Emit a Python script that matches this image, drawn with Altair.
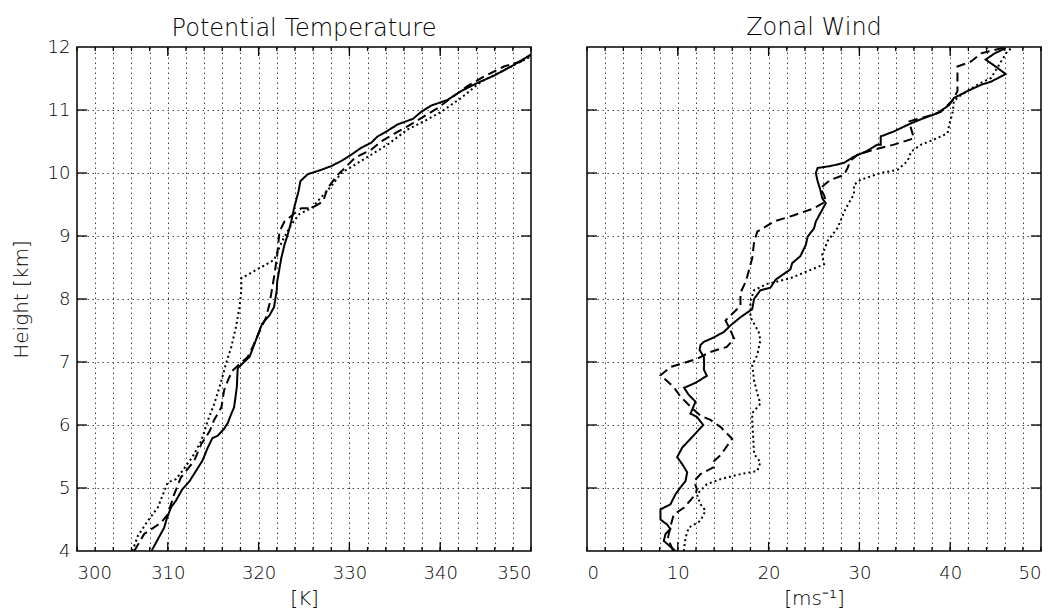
import altair as alt
import pandas as pd

# ---------------- data ----------------
# Potential temperature [K] vs height [km]
pt_solid_h = [4.0, 4.37, 4.52, 4.69, 4.8, 4.98, 5.11, 5.27, 5.43, 5.64, 5.79, 5.83, 5.94, 6.03, 6.18, 6.28,
              6.6, 6.9, 7.0, 7.08, 7.27, 7.5, 7.61, 7.74, 7.87, 8.14, 8.28, 8.65, 8.86, 9.02, 9.23, 9.44,
              9.71, 9.87, 9.98, 10.05, 10.11, 10.19, 10.29, 10.4, 10.48, 10.58, 10.67, 10.77, 10.86, 10.97,
              11.07, 11.16, 11.3, 11.43, 11.55, 11.69, 11.88]
pt_solid_v = [308.2, 309.6, 309.9, 310.35, 310.9, 311.6, 312.4, 313.1, 313.8, 314.4, 314.9, 315.5, 316.2,
              316.6, 317.0, 317.3, 317.6, 317.7, 318.4, 319.0, 319.5, 320.1, 320.4, 321.2, 321.7, 322.0,
              322.05, 322.5, 322.85, 323.2, 323.6, 323.9, 324.4, 324.6, 325.4, 326.9, 328.0, 329.1, 330.2,
              331.3, 332.4, 333.1, 334.2, 335.3, 337.0, 337.9, 339.0, 340.8, 342.3, 344.1, 346.0, 347.8, 350.0]

pt_dash_h = [4.0, 4.27, 4.45, 4.58, 4.9, 5.17, 5.43, 5.7, 5.9, 6.08, 6.28, 6.55, 6.7, 6.86, 6.94, 7.08,
             7.24, 7.55, 7.7, 7.92, 8.39, 8.7, 9.07, 9.23, 9.34, 9.44, 9.44, 9.55, 9.76, 9.97, 10.08, 10.24,
             10.37, 10.5, 10.63, 10.74, 10.87, 11.03, 11.19, 11.38, 11.53, 11.69, 11.77, 11.88]
pt_dash_v = [306.3, 307.4, 309.25, 310.0, 310.7, 311.45, 312.9, 313.7, 314.6, 315.1, 315.9, 316.2, 316.6,
             317.1, 317.7, 318.8, 319.35, 320.3, 320.8, 321.2, 321.75, 322.05, 322.3, 322.85, 323.8, 324.7,
             325.8, 327.1, 327.6, 328.7, 329.5, 330.6, 332.4, 333.5, 335.0, 336.4, 337.9, 339.7, 341.2,
             343.0, 344.8, 347.0, 348.9, 350.0]

pt_dot_h = [4.0, 4.24, 4.48, 4.69, 5.09, 5.14, 5.27, 5.49, 5.75, 6.07, 6.33, 6.7, 6.97, 7.24, 7.55, 7.87,
            8.14, 8.33, 8.62, 8.92, 9.18, 9.35, 9.44, 9.79, 10.0, 10.13, 10.29, 10.45, 10.69, 10.82, 10.97,
            11.19, 11.45, 11.61, 11.77, 11.85]
pt_dot_v = [306.1, 306.7, 307.8, 308.9, 310.0, 310.9, 311.6, 312.7, 313.7, 314.4, 315.1, 315.9, 316.4,
            317.0, 317.5, 317.9, 318.1, 318.1, 321.7, 322.6, 323.6, 324.5, 325.8, 328.0, 329.1, 330.6,
            332.4, 334.2, 336.4, 338.2, 340.1, 342.3, 344.5, 346.7, 348.9, 350.0]

# Zonal wind [m/s] vs height [km]
u_solid_h = [4.0, 4.16, 4.27, 4.35, 4.42, 4.5, 4.66, 4.74, 4.9, 5.01, 5.11, 5.25, 5.38, 5.49, 5.64, 5.75,
             5.89, 6.0, 6.13, 6.18, 6.37, 6.48, 6.59, 6.67, 6.78, 6.88, 6.97, 7.08, 7.19, 7.27, 7.32, 7.39,
             7.48, 7.58, 7.71, 7.84, 8.0, 8.14, 8.18, 8.31, 8.47, 8.57, 8.68, 8.86, 8.99, 9.12, 9.23, 9.52,
             9.6, 9.73, 9.87, 10.0, 10.08, 10.11, 10.16, 10.26, 10.34, 10.45, 10.45, 10.58, 10.66, 10.79,
             10.87, 10.95, 11.08, 11.19, 11.3, 11.4, 11.45, 11.57, 11.67, 11.8, 11.9, 11.98]
u_solid_v = [9.74, 8.46, 8.64, 9.19, 8.82, 8.09, 8.09, 9.19, 9.74, 10.3, 10.85, 11.03, 10.48, 9.93, 10.48,
             11.2, 12.1, 12.8, 12.1, 11.4, 11.95, 11.2, 10.7, 11.95, 13.2, 12.87, 12.9, 12.87, 12.4, 12.5,
             12.87, 13.97, 15.1, 15.8, 16.9, 18.2, 18.4, 19.1, 20.2, 20.8, 22.4, 22.6, 23.5, 24.1, 24.3,
             25.0, 25.2, 26.3, 25.9, 25.7, 25.4, 25.2, 25.4, 26.8, 28.3, 29.4, 30.7, 32.0, 32.35, 32.35,
             33.8, 35.7, 37.1, 38.6, 39.9, 40.4, 41.9, 43.4, 44.5, 46.1, 45.2, 43.9, 44.9, 46.1]

u_dash_h = [4.0, 4.2, 4.45, 4.58, 4.69, 4.9, 4.98, 5.11, 5.22, 5.33, 5.43, 5.52, 5.78, 5.97, 6.08, 6.15,
            6.29, 6.45, 6.6, 6.79, 6.92, 7.0, 7.05, 7.16, 7.24, 7.37, 7.5, 7.66, 7.89, 8.1, 8.28, 8.65,
            8.9, 9.07, 9.23, 9.33, 9.44, 9.55, 9.65, 9.76, 9.89, 9.97, 10.08, 10.19, 10.29, 10.37, 10.45,
            10.55, 10.7, 10.82, 10.9, 10.97, 11.16, 11.3, 11.69, 11.77, 11.9, 12.0]
u_dash_v = [9.5, 8.9, 9.3, 9.56, 10.7, 11.95, 12.1, 11.8, 12.5, 13.97, 14.0, 14.7, 15.99, 14.7, 13.6, 12.5,
            11.4, 10.3, 9.56, 8.1, 9.2, 11.0, 12.1, 13.6, 15.4, 16.2, 15.8, 15.26, 16.9, 16.9, 17.5, 18.2,
            18.4, 18.75, 20.6, 22.8, 25.0, 26.3, 26.1, 25.7, 26.8, 28.3, 28.7, 29.0, 29.8, 31.6, 33.8,
            36.0, 35.7, 35.5, 37.5, 38.97, 40.3, 40.8, 40.8, 42.3, 43.4, 46.2]

u_dot_h = [4.0, 4.21, 4.37, 4.48, 4.64, 4.74, 4.9, 5.06, 5.14, 5.22, 5.27, 5.41, 5.54, 5.81, 6.03, 6.19,
           6.34, 6.5, 6.71, 6.95, 7.11, 7.35, 7.48, 7.71, 7.97, 8.14, 8.24, 8.33, 8.55, 8.7, 8.92, 9.13,
           9.44, 9.66, 9.81, 9.89, 10.0, 10.05, 10.19, 10.34, 10.45, 10.53, 10.63, 10.77, 10.98, 11.14,
           11.24, 11.4, 11.51, 11.67, 11.77, 11.93, 11.98]
u_dot_v = [10.66, 10.85, 11.2, 12.5, 13.05, 12.5, 12.1, 13.2, 14.7, 16.9, 18.75, 19.1, 18.4, 18.3, 18.2,
           18.2, 19.1, 18.75, 18.4, 18.2, 18.75, 19.1, 18.9, 18.0, 18.0, 18.4, 19.85, 22.4, 26.1, 25.9,
           26.5, 27.6, 28.5, 29.4, 29.4, 30.1, 32.35, 34.2, 35.3, 35.7, 36.8, 38.2, 39.7, 39.9, 40.3,
           40.4, 41.2, 43.0, 44.5, 45.2, 45.6, 46.3, 46.7]

# axes / ticks
height_grid = [4.0 + 0.5 * i for i in range(17)]
height_major = [5, 6, 7, 8, 9, 10, 11]
pt_grid = list(range(300, 351, 2))
pt_major = [310, 320, 330, 340]
u_grid = list(range(0, 51, 2))
u_major = [10, 20, 30, 40]

FONT = "DejaVu Sans"
FW = 200
W, H = 454, 504


def series_frame(parts):
    rows = []
    for name, hs, vs in parts:
        for i, (h, v) in enumerate(zip(hs, vs)):
            rows.append({"series": name, "idx": i, "h": h, "x": v})
    return pd.DataFrame(rows)


def panel(df, domain, grid_vals, major_vals, title, xtitle, ylabels, title_offset):
    xscale = alt.Scale(domain=domain, nice=False, zero=False)
    yscale = alt.Scale(domain=[4, 12], nice=False, zero=False)
    xaxis = alt.Axis(values=grid_vals, grid=True, ticks=False, domain=False,
                     labelExpr="datum.value % 10 === 0 ? datum.label : ''",
                     labelPadding=13, titlePadding=6)
    yaxis = alt.Axis(values=height_grid, grid=True, ticks=False, domain=False,
                     labels=ylabels, format="d",
                     labelExpr="datum.value % 1 === 0 ? datum.label : ''",
                     labelPadding=7, titlePadding=16)
    ytitle = "Height [km]" if ylabels else None

    lines = alt.Chart(df).mark_line(color="black", strokeWidth=2, clip=True).encode(
        x=alt.X("x:Q", scale=xscale, title=xtitle, axis=xaxis),
        y=alt.Y("h:Q", scale=yscale, title=ytitle, axis=yaxis),
        strokeDash=alt.StrokeDash("series:N", legend=None,
                                  scale=alt.Scale(domain=["a", "b", "c"],
                                                  range=[[1, 0], [9, 5], [2, 3]])),
        detail="series:N",
        order="idx:Q",
    )

    minor = pd.DataFrame({"x": grid_vals})
    major = pd.DataFrame({"x": major_vals})
    hmaj = pd.DataFrame({"h": height_major})

    def xt(d, y1, y2):
        return alt.Chart(d).mark_rule(color="black", strokeWidth=1.3).encode(
            x=alt.X("x:Q", scale=xscale, title=xtitle, axis=xaxis),
            y=alt.value(y1), y2=alt.value(y2))

    def yt(x1, x2):
        return alt.Chart(hmaj).mark_rule(color="black", strokeWidth=1.3).encode(
            y=alt.Y("h:Q", scale=yscale, title=ytitle, axis=yaxis),
            x=alt.value(x1), x2=alt.value(x2))

    layers = [
        lines,
        xt(minor, H, H - 4), xt(minor, 0, 4),
        xt(major, H, H - 9), xt(major, 0, 9),
        yt(0, 10), yt(W, W - 10),
    ]
    return alt.layer(*layers).properties(
        width=W, height=H,
        title=alt.Title(title, fontSize=24, font=FONT, fontWeight=FW, color="black",
                        offset=title_offset),
    )


pt_df = series_frame([("a", pt_solid_h, pt_solid_v), ("b", pt_dash_h, pt_dash_v), ("c", pt_dot_h, pt_dot_v)])
u_df = series_frame([("a", u_solid_h, u_solid_v), ("b", u_dash_h, u_dash_v), ("c", u_dot_h, u_dot_v)])

left = panel(pt_df, [300, 350], pt_grid, pt_major, "Potential Temperature", "[K]", True, -3)
right = panel(u_df, [0, 50], u_grid, u_major, "Zonal Wind", "[ms\u207b\u00b9]", False, 6)

chart = alt.hconcat(left, right, spacing=56, bounds="flush").properties(
    padding={"left": 2, "top": 7, "right": 2, "bottom": 2}
).configure_view(
    stroke="black", strokeWidth=1.5
).configure_axis(
    gridColor="#444", gridDash=[1.5, 3.5], gridWidth=1, gridOpacity=1,
    labelFont=FONT, labelFontSize=18, labelFontWeight=FW, labelColor="black",
    titleFont=FONT, titleFontSize=20, titleFontWeight=FW, titleColor="black",
).configure_title(anchor="middle")

chart.save("out.html", embed_options={"renderer": "svg", "actions": False})
